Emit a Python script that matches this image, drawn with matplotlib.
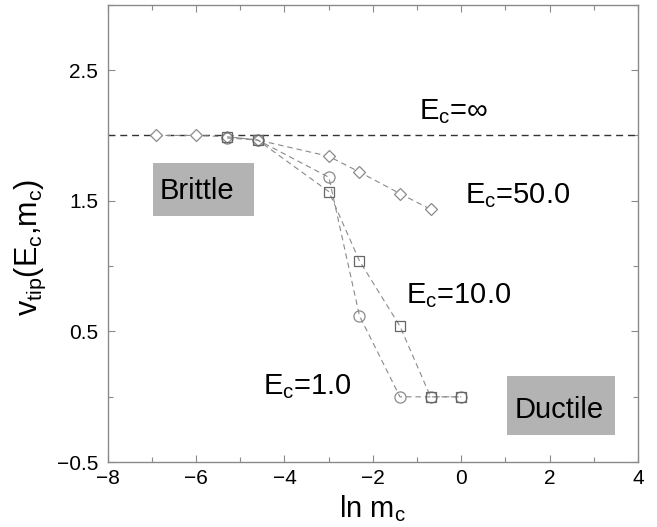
import numpy as np
import matplotlib
matplotlib.use("Agg")
import matplotlib.pyplot as plt
from matplotlib.patches import Rectangle
from matplotlib.ticker import FixedLocator

FONT = 'Liberation Sans'
plt.rcParams['font.family'] = [FONT, 'DejaVu Sans']
plt.rcParams['mathtext.fontset'] = 'custom'
plt.rcParams['mathtext.rm'] = FONT
plt.rcParams['mathtext.it'] = FONT + ':italic'

# data: m_c values and tip velocity
m50 = [0.001, 0.0025, 0.005, 0.01, 0.05, 0.1, 0.25, 0.5]
v50 = [2.00, 2.00, 1.99, 1.965, 1.84, 1.72, 1.555, 1.435]

m10 = [0.005, 0.01, 0.05, 0.1, 0.25, 0.5, 1.0]
v10 = [1.99, 1.965, 1.57, 1.04, 0.54, 0.0, 0.0]

m1 = [0.005, 0.01, 0.05, 0.1, 0.25, 0.5, 1.0]
v1 = [1.98, 1.965, 1.68, 0.62, 0.0, 0.0, 0.0]

v_inf = 2.0

xticks = [-8, -6, -4, -2, 0, 2, 4]
yticks = [-0.5, 0.5, 1.5, 2.5]

fig = plt.figure(figsize=(6.57, 5.27), dpi=100)
ax = fig.add_axes([0.164, 0.123, 0.807, 0.868])

gray = '#8a8a8a'
lw = 0.8
dash = (0, (5, 3.5))

ax.axhline(v_inf, color='#333333', lw=1.0, ls=(0, (5, 3.5)), zorder=2)

ax.plot(np.log(m50), v50, ls=dash, color=gray, lw=lw, marker='D', ms=6.5,
        mfc='white', mec=gray, mew=0.9, zorder=3)
ax.plot(np.log(m1), v1, ls=dash, color=gray, lw=lw, marker='o', ms=8,
        mfc='none', mec=gray, mew=0.9, zorder=4)
ax.plot(np.log(m10), v10, ls=dash, color=gray, lw=lw, marker='s', ms=7,
        mfc='none', mec='#666666', mew=0.9, zorder=5)

# shaded labels
ax.add_patch(Rectangle((-6.98, 1.38), 2.29, 0.41, facecolor='#b3b3b3',
                       edgecolor='none', zorder=1))
ax.add_patch(Rectangle((1.03, -0.293), 2.44, 0.451, facecolor='#b3b3b3',
                       edgecolor='none', zorder=1))
fs = 21
ax.text(-6.82, 1.515, 'Brittle', fontsize=fs, zorder=6)
ax.text(1.2, -0.16, 'Ductile', fontsize=fs, zorder=6)

ax.text(-0.96, 2.125, r'E$_{\mathrm{c}}$=∞', fontsize=fs)
ax.text(0.09, 1.48, r'E$_{\mathrm{c}}$=50.0', fontsize=fs)
ax.text(-1.24, 0.72, r'E$_{\mathrm{c}}$=10.0', fontsize=fs)
ax.text(-4.48, 0.02, r'E$_{\mathrm{c}}$=1.0', fontsize=fs)

ax.set_xlim(-8, 4)
ax.set_ylim(-0.5, 3.0)
ax.xaxis.set_major_locator(FixedLocator(xticks))
ax.xaxis.set_minor_locator(FixedLocator([-7, -5, -3, -1, 1, 3]))
ax.yaxis.set_major_locator(FixedLocator(yticks))
ax.yaxis.set_minor_locator(FixedLocator([0, 1, 2, 3]))
ax.set_xticklabels([str(t) if t >= 0 else '\u2212' + str(-t) for t in xticks])
ax.set_yticklabels([('\u2212' if t < 0 else '') + f'{abs(t):.1f}' for t in yticks])

ax.tick_params(which='both', direction='in', top=True, right=True,
               color=gray, labelsize=15, width=0.8)
ax.tick_params(which='major', length=5)
ax.tick_params(which='minor', length=3.5)
ax.tick_params(axis='y', pad=7)
ax.tick_params(axis='x', pad=5)
for s in ax.spines.values():
    s.set_color(gray)
    s.set_linewidth(1.0)

ax.set_xlabel(r'ln m$_{\mathrm{c}}$', fontsize=21, labelpad=4)
ax.set_ylabel(r'v$_{\mathrm{tip}}$(E$_{\mathrm{c}}$,m$_{\mathrm{c}}$)', fontsize=22, labelpad=6)
ax.yaxis.label.set_y(0.47)

fig.savefig('out.png', dpi=100)
